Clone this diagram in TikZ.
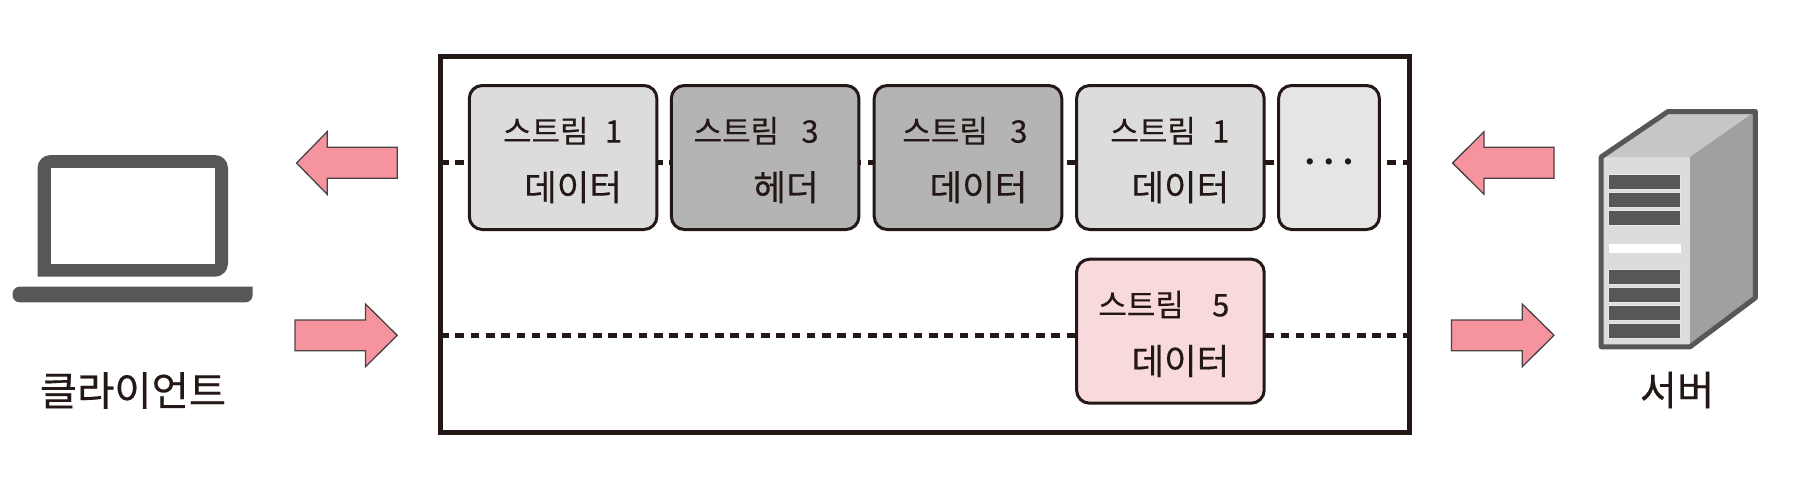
\documentclass[tikz,border=0pt]{standalone}
\usepackage{fontspec}
\setmainfont{Liberation Sans}
\newfontfamily\kr[FakeBold=0.35]{Noto Sans CJK KR}
\usetikzlibrary{backgrounds}
\definecolor{ink}{HTML}{231815}
\definecolor{devgray}{HTML}{595657}
\definecolor{arrowpink}{HTML}{F5949F}
\definecolor{arrowedge}{HTML}{4A4344}
\definecolor{lightbox}{HTML}{DCDCDD}
\definecolor{darkbox}{HTML}{B4B4B5}
\definecolor{pinkbox}{HTML}{F8DADD}
\definecolor{morebox}{HTML}{E5E5E5}
\definecolor{topface}{HTML}{C6C6C6}
\definecolor{sideface}{HTML}{A0A0A0}
\newcommand\twolines[3]{\rule{0pt}{31pt}#2\hbox to #1pt{}\\{\fontsize{35.5}{58}\selectfont #3}\hbox to #1pt{}}
\tikzset{
  framebox/.style={draw=ink,line width=5pt,minimum width=968.3pt,minimum height=375.6pt,inner sep=0pt},
  pkt/.style={draw=ink,line width=3pt,rounded corners=13pt,inner ysep=0pt,inner xsep=3.1pt,text width=181.4pt,
    minimum height=144pt,align=right,text=ink,font=\kr\fontsize{31}{58}\selectfont},
  wire/.style={draw=ink,line width=5.5pt,dash pattern=on 8.6pt off 6.68pt},
  blockarrow/.style={fill=arrowpink,draw=arrowedge,line width=1.3pt,line join=miter},
  devicelabel/.style={text=ink,inner sep=0pt,font=\kr\fontsize{40.5}{48}\selectfont},
  laptopshape/.style={fill=devgray},
  bar/.style={fill=devgray,draw=white!85!devgray,line width=.8pt}
}
\begin{document}
\begin{tikzpicture}[x=1pt,y=-1pt]
\useasboundingbox (0,0) rectangle (1799,490);

% central frame and packets
\node[framebox] (frame) at (924.85,244.5) {};
\node[pkt,fill=lightbox] (b1) at (563.1,157.5) {\twolines{31.7}{스트림 \hspace{6pt}1}{데이터}};
\node[pkt,fill=darkbox]  (b2) at (765.15,157.5) {\twolines{37.2}{스트림 \hspace{12pt}3}{헤더}};
\node[pkt,fill=darkbox]  (b3) at (968,157.5) {\twolines{31.2}{스트림 \hspace{12pt}3}{데이터}};
\node[pkt,fill=lightbox] (b4) at (1170.4,157.5) {\twolines{31.7}{스트림 \hspace{6pt}1}{데이터}};
\node[pkt,fill=morebox,text width=94.6pt,align=center,font=\fontsize{23}{23}\selectfont] (b5) at (1329,157.5) {\smash{\raisebox{-12pt}{•\hspace{11pt}•\hspace{11pt}•}}};
\node[pkt,fill=pinkbox] (b6) at (1170.4,331.2) {\twolines{31.7}{스트림 \hspace{18pt}5}{데이터}};

% dashed stream lines behind the packets
\coordinate (l1) at (440.1,162.7);
\coordinate (r1) at (1408,162.7);
\coordinate (l2) at (440.1,335.3);
\coordinate (r2) at (1408,335.3);
\begin{scope}[on background layer]
  \fill[white] (0,0) rectangle (1799,490);
  \draw[wire] (l1) -- (r1);
  \draw[wire] (l2) -- (r2);
\end{scope}

% block arrows
\draw[blockarrow] (296.6,163) -- (327.2,131.7) -- (327.2,147.3) -- (397.2,147.3) -- (397.2,178.3) -- (327.2,178.3) -- (327.2,194.3) -- cycle;
\draw[blockarrow] (397.2,335.3) -- (365.5,304) -- (365.5,320) -- (295,320) -- (295,350.7) -- (365.5,350.7) -- (365.5,366.7) -- cycle;
\draw[blockarrow] (1452.6,163) -- (1484,131.7) -- (1484,147.3) -- (1554,147.3) -- (1554,178.3) -- (1484,178.3) -- (1484,194.3) -- cycle;
\draw[blockarrow] (1554,335.3) -- (1522.2,304) -- (1522.2,320) -- (1451.4,320) -- (1451.4,350.7) -- (1522.2,350.7) -- (1522.2,366.7) -- cycle;

% laptop
\fill[laptopshape] {[rounded corners=13pt] (37.5,276.7) -- (37.5,155) -- (228,155) -- (228,276.7)} -- cycle;
\fill[white] (50.5,168.3) rectangle (215,264);
\fill[laptopshape] {[rounded corners=7pt] (252.6,286.7) -- (252.6,302.3) -- (12.6,302.3) -- (12.6,286.7)} -- cycle;
\node[devicelabel] (client) at (133,390.5) {클라이언트};

% server
\fill[lightbox] (1601,157) rectangle (1690,347);
\fill[topface] (1601,157) -- (1668,111) -- (1755.5,111) -- (1690,157) -- cycle;
\fill[sideface] (1690,157) -- (1755.5,111) -- (1755.5,298) -- (1690,347) -- cycle;
\draw[devgray,line width=5pt,line join=round] (1601.2,156.9) -- (1668,111.5) -- (1755.4,111.5) -- (1755.4,297.8) -- (1690,346.8) -- (1601.2,346.8) -- cycle;
\foreach \ya/\yb in {174.3/189,192.3/207,210.7/225.3,269.3/284,287.3/302,305.3/320,323.7/338.7}
  \draw[bar] (1608.7,\ya) rectangle (1680.7,\yb);
\fill[white] (1608.7,244.3) rectangle (1680.7,253.3);
\node[devicelabel] (server) at (1677,390) {서버};
\end{tikzpicture}
\end{document}
